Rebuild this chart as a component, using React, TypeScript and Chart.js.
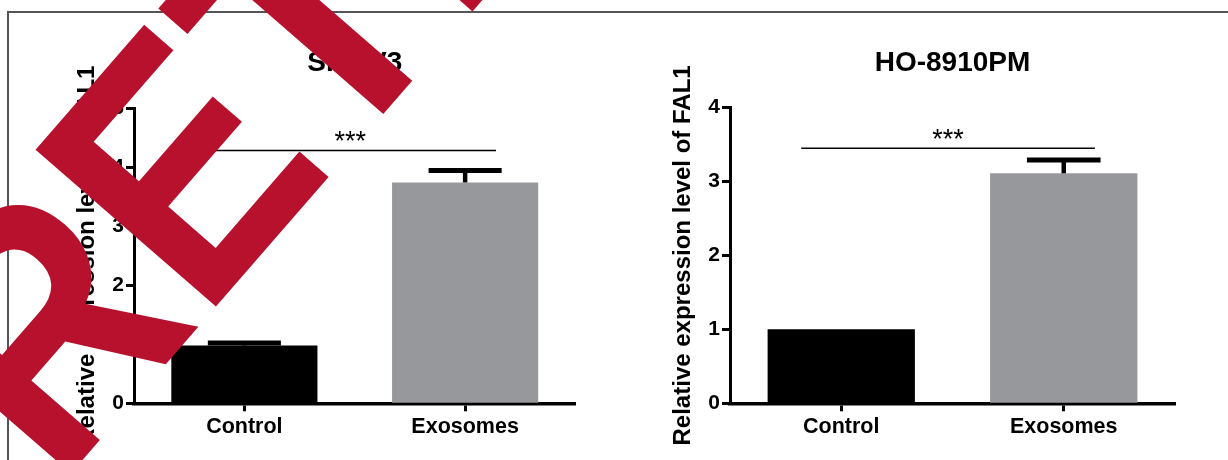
import React, { useEffect, useRef } from "react";
import { Chart, registerables } from "chart.js";

Chart.register(...registerables);

// ---------- data ----------
const categories = ["Control", "Exosomes"];
const panelTitles = ["SKOV3", "HO-8910PM"];
const yAxisTitle = "Relative expression level of FAL1";
const skov3Means = [0.98, 3.74];
const skov3Errors = [0.04, 0.2];
const ho8910Means = [1.0, 3.11];
const ho8910Errors = [0, 0.18];
const yMaxValues = [5, 4];
const sigLevels = [4.28, 3.45];
const sigLabel = "***";
const barColors = ["#000000", "#96989b"];
const watermarkText = "RETRACTED";

const FONT = '"Liberation Sans", Arial, Helvetica, sans-serif';

type PanelProps = {
  title: string;
  means: number[];
  errors: number[];
  yMax: number;
  sig: number;
  canvasLeft: number;
  canvasWidth: number;
  plotRight: number;
  plotTop: number;
};

const AXIS_W = 116;
const PLOT_BOTTOM = 403.3;
const X_AXIS_H = 40;
const CANVAS_H = 460;
const TITLE_SIZE = 28;
const TITLE_PAD_TOP = 46.2;
const TITLE_LINE = TITLE_SIZE * 1.2;

function BarPanel(p: PanelProps) {
  const ref = useRef<HTMLCanvasElement | null>(null);
  useEffect(() => {
    if (!ref.current) return;
    const annot = {
      id: "annot",
      afterDatasetsDraw(chart: any) {
        const c = chart.ctx;
        const meta = chart.getDatasetMeta(0);
        const y = chart.scales.y;
        const x = chart.scales.x;
        c.save();
        c.strokeStyle = "#000";
        c.lineCap = "butt";
        meta.data.forEach((bar: any, i: number) => {
          const e = p.errors[i];
          if (!e) return;
          const top = y.getPixelForValue(p.means[i]);
          const capY = y.getPixelForValue(p.means[i] + e);
          const half = bar.width * 0.25;
          c.lineWidth = 4.5;
          c.beginPath();
          c.moveTo(bar.x, top);
          c.lineTo(bar.x, capY);
          c.stroke();
          c.lineWidth = 5;
          c.beginPath();
          c.moveTo(bar.x - half, capY);
          c.lineTo(bar.x + half, capY);
          c.stroke();
        });
        const step = x.getPixelForValue(1) - x.getPixelForValue(0);
        const x1 = x.getPixelForValue(0) - 0.18 * step;
        const x2 = x.getPixelForValue(1) + 0.14 * step;
        const ys = y.getPixelForValue(p.sig);
        c.lineWidth = 1.5;
        c.beginPath();
        c.moveTo(x1, ys);
        c.lineTo(x2, ys);
        c.stroke();
        c.fillStyle = "#000";
        c.font = `27px ${FONT}`;
        c.textAlign = "center";
        c.textBaseline = "alphabetic";
        c.fillText(sigLabel, (x1 + x2) / 2, ys - 0.5);
        c.restore();
      },
    };
    const tickGrid = {
      display: true,
      drawOnChartArea: false,
      drawTicks: true,
      tickLength: 8,
      tickWidth: 3,
      tickColor: "#000",
    };
    const chart = new Chart(ref.current, {
      type: "bar",
      data: {
        labels: categories,
        datasets: [
          {
            data: p.means,
            backgroundColor: barColors,
            borderWidth: 0,
            barPercentage: 0.662,
            categoryPercentage: 1,
          },
        ],
      },
      options: {
        animation: false,
        responsive: false,
        devicePixelRatio: 1,
        layout: {
          padding: {
            left: 0,
            right: p.canvasWidth - (p.plotRight - p.canvasLeft),
            top: 0,
            bottom: CANVAS_H - PLOT_BOTTOM - X_AXIS_H,
          },
        },
        plugins: {
          legend: { display: false },
          tooltip: { enabled: false },
          title: {
            display: true,
            text: p.title,
            fullSize: false,
            color: "#000",
            font: { family: FONT, size: TITLE_SIZE, weight: "bold", lineHeight: 1.2 },
            padding: {
              top: TITLE_PAD_TOP,
              bottom: p.plotTop - TITLE_PAD_TOP - TITLE_LINE,
            },
          },
        },
        scales: {
          x: {
            type: "category",
            offset: true,
            z: 1,
            grid: { ...tickGrid, offset: false },
            border: { display: true, width: 3.5, color: "#000" },
            ticks: {
              color: "#000",
              font: { family: FONT, size: 21.5, weight: "bold" },
              padding: 3,
              maxRotation: 0,
              autoSkip: false,
            },
            afterFit: (s: any) => {
              s.height = X_AXIS_H;
            },
          },
          y: {
            min: 0,
            max: p.yMax,
            z: 1,
            grid: tickGrid,
            border: { display: true, width: 3, color: "#000" },
            ticks: {
              stepSize: 1,
              color: "#000",
              font: { family: FONT, size: 21, weight: "bold" },
              padding: 2,
            },
            title: {
              display: true,
              text: yAxisTitle,
              color: "#000",
              font: { family: FONT, size: 24, weight: "bold", lineHeight: 1.2 },
              padding: { top: 55.4, bottom: 0 },
            },
            afterFit: (s: any) => {
              s.width = AXIS_W;
            },
          },
        },
      } as any,
      plugins: [annot],
    });
    return () => chart.destroy();
  }, []);
  return (
    <canvas
      ref={ref}
      width={p.canvasWidth}
      height={CANVAS_H}
      style={{
        position: "absolute",
        left: p.canvasLeft,
        top: 0,
        width: p.canvasWidth,
        height: CANVAS_H,
        zIndex: 2,
      }}
    />
  );
}

export default function App() {
  return (
    <div
      style={{
        position: "fixed",
        left: 0,
        top: 0,
        width: 1228,
        height: 460,
        overflow: "hidden",
        background: "#fff",
      }}
    >
      <div
        style={{
          position: "absolute",
          left: 7,
          top: 11,
          width: 1400,
          height: 700,
          borderLeft: "2px solid #555",
          borderTop: "2px solid #555",
          zIndex: 1,
        }}
      />
      <BarPanel
        title={panelTitles[0]}
        means={skov3Means}
        errors={skov3Errors}
        yMax={yMaxValues[0]}
        sig={sigLevels[0]}
        canvasLeft={18}
        canvasWidth={600}
        plotRight={575.5}
        plotTop={108}
      />
      <BarPanel
        title={panelTitles[1]}
        means={ho8910Means}
        errors={ho8910Errors}
        yMax={yMaxValues[1]}
        sig={sigLevels[1]}
        canvasLeft={614}
        canvasWidth={600}
        plotRight={1175}
        plotTop={107.5}
      />
      <svg
        width={1228}
        height={460}
        style={{
          position: "absolute",
          left: 0,
          top: 0,
          zIndex: 10,
          pointerEvents: "none",
          overflow: "hidden",
        }}
      >
        <text
          transform="translate(57.5 488.8) rotate(-49) scale(0.881 1)"
          fontFamily={FONT}
          fontWeight="bold"
          fontSize={347.4}
          fill="#b8112e"
        >
          {watermarkText}
        </text>
      </svg>
    </div>
  );
}
